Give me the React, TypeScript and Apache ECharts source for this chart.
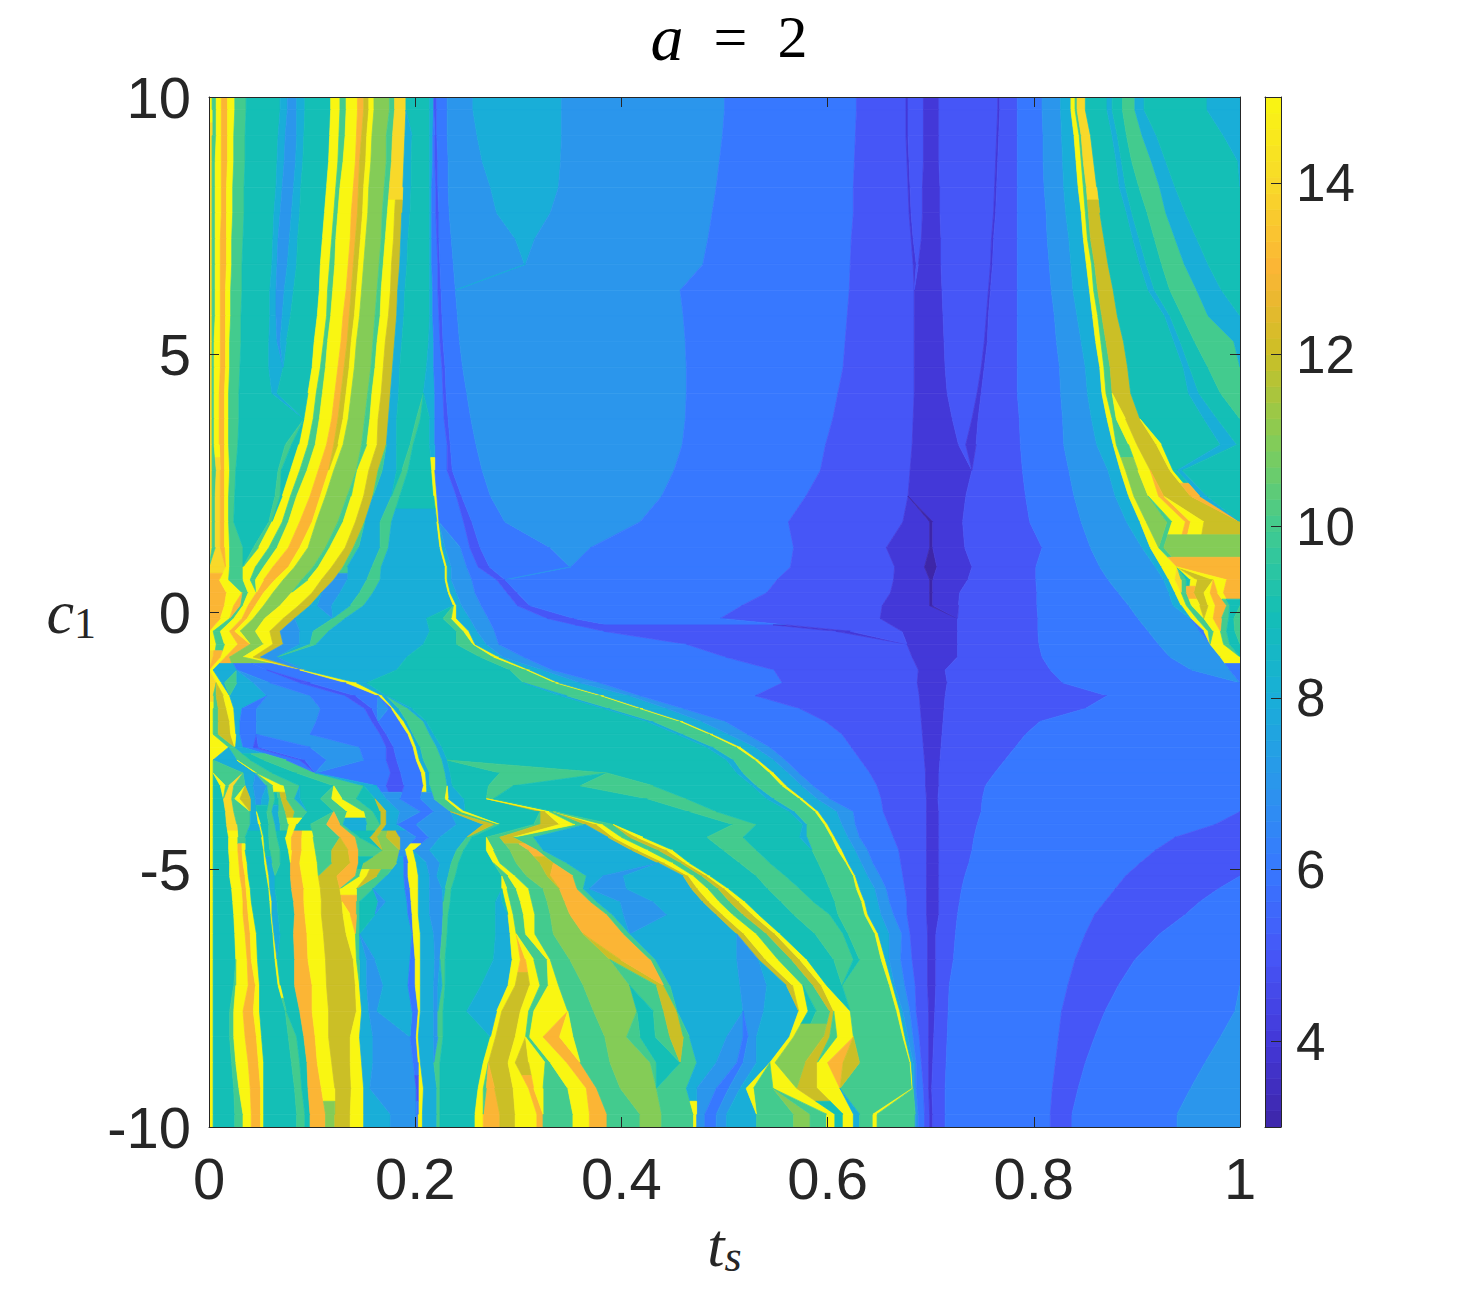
import React, { useEffect, useRef } from "react";
import * as echarts from "echarts";

// c1 edges of the sampled rows, top to bottom
const rowEdges = [10,9.5,9,8.5,8,7.5,7,6.5,6,5.5,5,4.5,4,3.5,3,2.5,2,1.5,1,0.75,0.5,0.25,0,-0.25,-0.5,-0.75,-1,-1.25,-1.5,-1.75,-2,-2.25,-2.5,-2.75,-3,-3.25,-3.5,-3.75,-4,-4.25,-4.5,-4.75,-5,-5.25,-5.5,-5.75,-6,-6.5,-7,-7.5,-8,-8.5,-9,-9.5,-10];

// each row: runs of <hex value><end of the run, in thousandths of t_s>
const rowRuns = [
"f3 a7 f12 d18 f25 a36 969 876 785 893 9118 f127 a133 f144 d150 c155 f160 b175 a180 e191 9214 8218 5221 6231 7256 8342 7500 6628 5676 4678 5693 4708 5765 4767 5784 6808 7826 8836 f840 a842 e850 9871 8876 9886 a898 8907 9968 81000",
"e3 a7 f12 d18 f24 a35 967 874 785 892 9117 f126 a132 f143 d148 c153 f158 b172 a178 e190 8197 9214 8217 6219 5221 6231 7260 8342 7498 6627 5676 4678 5693 4708 5764 4766 5784 6809 7827 8839 f844 a846 e855 9876 8881 9890 a905 8919 9984 81000",
"e3 a6 f12 d18 f24 a35 966 873 784 891 9116 f125 a130 f142 d146 c152 f157 b172 a177 e189 8196 9214 8217 6219 5222 6232 7265 8341 7495 6626 5677 4679 5693 4708 5763 4765 5784 6809 7828 8841 f846 a848 e858 9880 8885 9895 a914 8928 9998 81000",
"e3 a6 f12 d17 f23 a34 965 871 782 889 9114 f123 a127 f140 d145 c150 f155 b170 a175 e188 8196 9214 8216 6220 5222 6232 7273 8339 7492 6625 5678 4680 5692 4709 5762 4764 5784 6810 7829 8843 f848 a851 e861 9883 8889 9902 a922 8937 91000",
"e3 a6 f12 d17 f23 a34 963 869 780 888 9112 f121 a125 f138 d144 c149 f154 b168 a173 f180 c187 8195 9214 8216 6220 5223 6233 7279 8331 7488 6625 5679 4681 5692 4709 5761 4763 5784 6812 7831 8846 f850 a853 c864 9890 8895 9910 a928 8947 91000",
"e3 a6 f11 d17 f22 a33 962 867 778 886 9110 f119 a123 f137 d142 c147 f152 b167 a171 f179 c186 8193 9214 8216 6221 5223 6235 7297 8316 7484 6623 5681 4683 5691 4710 5759 4761 5784 6813 7834 8848 f852 a855 c868 9896 8902 9917 a937 8958 91000",
"e3 a6 f11 d17 f22 a32 961 866 776 885 9108 f117 a122 f135 d140 c145 f150 b165 a169 f177 c185 8192 9214 8216 6222 5224 6237 7306 8307 7479 6622 5683 4686 5688 4710 5758 4760 5784 6815 7836 8851 f856 a859 c872 9903 8909 9924 a946 8969 91000",
"e3 a6 f11 d16 f21 a32 959 865 773 882 9107 f115 a120 f133 d138 c143 f148 b163 a167 f176 c183 8190 9214 8217 6222 5225 6239 7457 6621 5684 4711 5756 4758 5784 6817 7838 8854 f858 a862 c877 9911 8917 9932 a958 8982 91000",
"e3 a6 f11 d16 f21 a31 959 865 771 879 9105 f114 a118 f130 d136 c141 f146 b161 a166 f174 c182 8189 9214 8217 6223 5226 6241 7460 6619 5684 4712 5754 4756 5784 6820 7842 8857 f862 a866 c881 9927 8932 9944 a969 81000",
"e3 a5 f11 d16 f20 a31 958 866 769 875 9102 f111 a115 f128 d134 c138 f143 b159 a163 f171 c180 8187 9213 8218 6224 5227 6243 7462 6617 5684 4713 5752 4755 5784 6822 7846 8860 f865 a870 c887 9936 8942 9956 a994 81000",
"e3 a5 f11 d16 f20 a30 958 872 9100 f108 a113 f125 d131 c136 f141 b157 a161 f169 c178 8185 9211 8218 6226 5229 6246 7463 6615 5684 4714 5749 4752 5784 6825 7850 8864 f868 a874 c891 9945 8951 9969 a1000",
"e3 a5 f10 d15 f19 a29 961 866 996 f104 a110 f122 d128 c133 f138 b154 a158 f167 c176 8184 9208 8219 6227 5230 6250 7463 6610 5684 4716 5745 4749 5784 6826 7852 8866 f870 a876 c894 9950 8960 9981 a1000",
"e3 a5 f10 d15 f19 a29 992 f101 a107 f119 d125 c130 f135 b151 a156 f164 c174 8182 9201 a205 9214 8219 6228 5232 6254 7462 6605 5683 4721 5740 4746 5786 6828 7856 8871 f876 a880 f889 c903 9965 8978 91000",
"e3 a5 f10 d15 f19 a28 974 a80 987 f96 a103 f114 d121 c125 f130 b148 a153 f163 c172 8182 9195 a198 9214 8219 6231 5234 6259 7459 6598 5682 4727 5734 4744 5787 6829 7861 8877 f880 a892 f900 c919 f924 9981 8997 91000",
"e3 a7 e11 d15 f20 a26 967 a70 979 f88 a95 f106 d116 f121 b143 f155 c164 a168 8182 9187 a193 9216 f219 6231 5236 6265 7451 6593 5680 4740 5789 6834 7872 8884 f889 b901 f913 c932 f935 9939 8944 91000",
"e3 a6 e11 d15 f19 a25 964 a69 971 f79 a85 f98 d108 f113 b134 a138 f150 c159 8177 a185 9218 f221 6240 5245 6273 7439 6579 5678 4734 5792 6839 7879 8892 f897 b911 f921 d926 c952 d961 8968 91000",
"e3 a6 e11 d15 f19 a24 958 a61 f71 a77 f88 d100 f104 b125 a130 f142 c151 8166 a177 8221 f223 6247 5255 6287 7418 6562 5673 4699 3702 4731 5796 6846 7890 8903 f909 b929 a934 f947 d952 f965 c1000",
"e3 a6 e11 d15 f20 a33 943 a48 f58 a66 f77 d88 f96 b113 a117 f132 c140 a145 8166 a174 8224 f226 8229 7244 6253 5263 6331 7370 6567 5657 4699 3702 4733 5808 6855 7905 8913 f921 a926 b1000",
"e16 f20 a33 f45 a53 f62 d77 f83 b101 a106 f119 c130 a134 8158 a167 8229 f231 8235 7250 6261 5272 6350 7351 6564 5665 4694 3706 4740 5802 6864 7918 8924 f939 d1000",
"d10 f19 a33 f40 a45 f53 d64 f72 b90 a96 f109 c121 7134 8153 a166 8229 f231 8235 7255 6279 5287 6551 5664 4699 3702 4736 5802 6872 7926 8931 f937 e943 a948 9952 f958 c974 f987 d1000",
"d17 f32 a38 f46 d53 f62 b80 f100 c109 7127 8146 a159 8232 f234 8240 7258 6289 5299 6541 5661 4699 3702 4728 5803 6882 7931 8937 f943 a948 d955 c965 f971 d978 f984 d1000",
"d15 f24 d30 a33 f38 d45 f53 b69 f87 c98 8105 7119 8137 a150 8237 f240 8245 7264 6299 5311 6517 5653 4699 3702 4727 5803 6892 7935 8943 f948 a953 f961 c969 f976 d987 a990 91000",
"d11 f20 a24 f32 d37 f43 b54 f72 c83 8120 a132 8211 9227 a235 f240 8253 7271 6328 5354 6496 5651 4726 5804 6901 7952 f958 a965 f974 d982 a989 9994 a1000",
"f4 a11 f20 d25 f30 b45 f59 c69 788 8101 a116 8214 9240 a247 f252 8260 7277 6383 5608 4622 5672 4726 5804 6911 7961 6965 f969 a974 f981 a987 9995 a1000",
"f7 a15 f28 d40 b53 f62 c72 788 898 a104 8208 9240 a256 f258 8269 7281 6463 5677 4726 5805 6921 7971 f984 a990 91000",
"e4 d11 f16 d20 b33 f43 c50 766 8192 9263 a276 f281 8285 7305 6501 5682 4726 5808 6932 7981 f1000",
"f4 827 656 688 f92 8182 9292 a308 f311 8324 7333 6548 5688 4714 5816 6953 7990 61000",
"e7 f12 815 a27 843 759 688 598 6133 f143 8153 9305 a336 f339 8360 7379 6556 5687 4716 5828 61000",
"e4 a7 c14 f20 856 798 6132 5142 6164 f168 8172 9341 8347 a380 f383 8408 7418 6530 5689 4714 5871 61000",
"f4 a9 c17 f24 832 646 7108 6151 5158 6163 7174 6177 f179 8184 a193 8197 9383 8389 a418 f421 8444 7460 6573 5690 4713 5850 61000",
"f4 a9 c20 f25 830 646 7104 6158 5164 6185 f189 8192 a208 8211 9425 8431 a457 f460 8478 7501 6598 5691 4712 5806 61000",
"f4 a9 c21 f26 830 646 798 6166 5172 6193 f196 8198 a214 8218 9454 8460 a486 f489 8504 7522 6614 5692 4711 5792 61000",
"f19 a25 833 643 548 698 7146 6172 5179 6198 f201 8205 a221 8226 9483 8489 a512 f516 8530 7544 6623 5693 4710 5782 61000",
"f4 827 a40 953 a75 688 593 6114 7150 6172 5182 6201 f204 8208 a226 8231 9502 8509 a530 f533 8548 7559 6632 5694 4709 5772 61000",
"f4 a33 845 f46 a61 985 a103 6176 5186 6206 f210 8214 a229 8234 9282 a386 9512 8518 a544 f548 8562 7572 6641 5695 4708 5762 61000",
"f4 911 f16 a19 e24 a35 843 756 a62 f72 a88 9121 a150 8163 6172 5189 6208 f211 8214 a231 8236 9271 a295 9360 a431 9527 8531 a556 f560 8575 7586 6648 5695 4708 5753 61000",
"f4 914 e22 a25 f30 c40 845 751 858 a64 967 a70 c75 a83 888 9108 a119 f129 a143 9161 8172 7185 6205 7218 a229 f232 8247 9269 a276 9425 a463 9541 8548 a573 f576 8590 7602 6652 5696 4707 5750 61000",
"f4 916 e24 a40 846 956 a61 867 a74 c83 a95 9121 a134 f150 a159 9166 c172 8185 7205 6218 7234 a244 f248 9321 c326 f330 a334 9466 a492 9563 8568 a588 f591 8609 7625 6654 5696 4708 5749 61000",
"f4 917 e27 a40 848 f50 958 a64 869 a77 f85 998 a114 d127 a130 8153 a166 c172 8182 6201 7240 8266 c276 a282 9315 a321 c340 f355 a365 c376 f382 a392 9508 a531 9576 8580 a597 f600 8614 7627 6659 5696 4708 5745 6976 51000",
"f4 919 f28 a35 951 f53 958 a66 974 f80 d90 f101 a127 d142 a146 9156 c163 b172 c185 7201 6213 7224 8250 a255 9269 a282 c295 a315 8387 c392 f400 a408 c415 f421 9483 a518 9573 8580 a604 f607 8620 7631 6664 5696 4708 5742 6937 51000",
"f4 919 f28 d32 f35 953 f54 959 a69 977 f80 d90 f103 a119 c135 d145 a168 b185 7190 f198 7214 8240 a247 9269 f276 a292 b310 d318 a324 8410 c416 f426 a436 c444 f450 9499 a531 9585 a610 f614 8627 7639 6669 5696 4708 5740 6918 51000",
"f4 920 f29 d33 f37 954 f56 861 a69 979 d88 f105 a119 c137 d145 9150 b182 8189 6193 f201 8211 7224 8235 a242 9276 f282 a298 b321 c334 a347 8436 c442 f450 a458 c462 f466 9515 a544 9591 a618 f620 8633 7644 6671 5696 4708 5737 6903 51000",
"f4 920 f30 d35 f38 956 f58 864 979 d90 f106 c124 d142 a146 f153 c163 a172 8189 6193 f203 8214 7221 8232 a239 9284 a290 f297 a308 b328 c331 d353 a366 8382 7402 8460 c465 f470 a478 c483 f486 9531 a559 9597 a625 f627 8639 7651 6673 5696 4708 5733 6889 51000",
"f4 922 f32 d36 f40 958 f59 864 980 d92 f108 c127 f143 a159 8190 6195 f203 8214 7226 8229 a235 9284 f289 a298 f310 a324 b340 d357 a363 8369 7405 8468 c474 f484 a494 c500 f504 9542 a573 9602 a628 f631 8646 7657 6675 5696 4708 5730 6879 5979 61000",
"f4 923 f33 d37 f41 959 f61 866 982 d92 f109 c129 d143 a146 9164 7171 8192 6196 f203 8214 7227 a234 9278 8284 9287 f292 a302 f313 a328 b345 d370 a376 8399 7431 8479 c485 f495 a505 c514 f520 9555 a586 9607 a633 f636 8649 7660 6677 5696 4708 5728 6869 5961 61000",
"f4 924 f33 d38 f43 960 f61 867 983 d93 f109 c130 f137 d143 a146 9161 8193 6197 f203 8214 7227 a232 9278 8290 f295 a305 f316 a331 b350 d386 a391 8402 7444 8492 c498 f508 a518 c527 f533 9567 a602 9610 a636 f639 8652 7664 6677 5696 4708 5726 6859 5947 61000",
"f4 925 f35 d40 f46 962 f63 869 982 d95 f111 c133 f142 a146 8197 6198 f205 8218 7226 a231 9278 8292 f298 a307 f316 a334 b363 d402 a408 8512 c519 f531 a541 c549 f554 9588 a615 9620 a646 f649 8660 7672 6680 5697 4705 5724 6850 5922 61000",
"f4 926 f37 d41 f47 964 f66 983 d96 f113 c140 f143 a146 8153 7161 8195 6200 f205 8219 7224 a229 9276 8294 f302 d307 f315 a328 f331 a350 b389 c399 d428 a433 8512 7533 c540 f552 a565 c573 f580 9606 a625 9631 a652 f656 8660 7671 6682 5697 4705 5722 6840 5898 61000",
"f4 924 a26 f38 d45 f49 967 f69 983 d100 f114 c142 f146 8153 7169 8193 6200 f205 8218 7222 8226 a229 9264 8290 f297 c311 f321 a329 f339 a363 b408 a434 c441 a447 8515 7541 8560 c566 f576 a586 c594 f599 9614 a660 f663 8665 7675 6685 5697 4705 5718 6833 5882 61000",
"f4 920 a24 f33 d43 f49 974 a75 988 d100 f116 c143 f148 8155 7163 8197 6203 f205 8218 7222 a227 9250 8279 f284 c302 f310 a315 f348 a373 b415 9431 a441 c454 8518 7538 8572 f581 9589 a602 c606 f622 a667 f670 8673 7680 6686 5698 4704 5717 6827 5869 6995 71000",
"f4 920 a24 f35 d46 f51 977 a85 992 d103 f116 c137 f146 8159 7195 6201 f203 8218 7222 a227 9273 f278 c297 f307 a311 f324 d340 f353 a384 b405 a418 9433 a447 c460 a466 8502 7518 6523 7531 8563 f567 b596 c602 a609 f625 a673 f675 8678 7683 6689 5698 4703 5716 6824 5859 6981 71000",
"f4 922 a26 f38 d48 f53 980 a88 995 d105 f119 c137 f148 8159 7198 6203 f205 8218 a224 9266 f271 c290 f297 c310 f326 a331 f347 d360 a389 b428 a434 9457 a473 8492 7512 6518 7531 8544 f549 b578 c590 f600 d615 c631 a680 f681 8683 7686 6691 5698 4702 5715 6821 5850 6966 71000",
"f4 924 a29 f40 d50 f53 983 a90 996 d109 f122 c138 f150 8156 7201 5203 f208 8221 a224 9261 f266 a269 d277 c295 f310 d315 f324 a348 f366 d376 a399 b434 a463 8473 7492 6504 7515 8521 f528 a547 f570 c590 f612 a682 f683 7686 6693 5698 4701 5714 6818 5843 6952 71000",
"f4 925 a33 f41 d50 f53 985 a93 998 d113 b122 c137 f150 8176 7201 6203 f207 8221 a224 9258 f266 d282 c297 f318 d324 a353 f369 d386 a418 b439 a470 f473 7481 6492 7502 8531 a567 b583 a599 f607 9615 f625 8631 a644 f648 a685 7688 6694 5699 4702 5714 6816 5837 6939 71000",
];

const colorStops = ["#3E26A8","#4338D8","#4656F7","#3778FF","#2B96EC","#19AED8","#14BFB6","#43CB8E","#84CC57","#CBBF26","#FBB535","#F8D92A","#F9F612"];
const xTickValues = [0,0.2,0.4,0.6,0.8,1];
const yTickValues = [-10,-5,0,5,10];
const barTickValues = [4,6,8,10,12,14];

type Run = { s: number; e: number; v: number };
const parsed: Run[][] = rowRuns.map((row) => {
  const runs: Run[] = [];
  let start = 0;
  row.trim().split(/\s+/).forEach((tok) => {
    const v = parseInt(tok[0], 16);
    const e = parseInt(tok.slice(1), 10) / 1000;
    if (e > start) {
      runs.push({ s: start, e, v });
      start = e;
    }
  });
  return runs;
});

// quads between neighbouring sampled rows: runs of equal value are paired, others taper out
function align(a: Run[], b: Run[]) {
  const n = a.length;
  const m = b.length;
  const S: number[][] = Array.from({ length: n + 1 }, () => new Array(m + 1).fill(0));
  for (let i = n - 1; i >= 0; i--) {
    for (let j = m - 1; j >= 0; j--) {
      let best = Math.max(S[i + 1][j], S[i][j + 1]);
      if (a[i].v === b[j].v) {
        const d = Math.abs((a[i].s + a[i].e) / 2 - (b[j].s + b[j].e) / 2);
        if (d < 0.09) best = Math.max(best, S[i + 1][j + 1] + 1 - d / 0.09 + 0.05);
      }
      S[i][j] = best;
    }
  }
  const pairs: [number, number][] = [];
  let i = 0;
  let j = 0;
  while (i < n && j < m) {
    let took = false;
    if (a[i].v === b[j].v) {
      const d = Math.abs((a[i].s + a[i].e) / 2 - (b[j].s + b[j].e) / 2);
      if (d < 0.09 && Math.abs(S[i][j] - (S[i + 1][j + 1] + 1 - d / 0.09 + 0.05)) < 1e-9) {
        pairs.push([i, j]);
        i++;
        j++;
        took = true;
      }
    }
    if (!took) {
      if (S[i + 1][j] >= S[i][j + 1]) i++;
      else j++;
    }
  }
  return pairs;
}

const cells: number[][] = [];
const centers = parsed.map((_, i) => (rowEdges[i] + rowEdges[i + 1]) / 2);
parsed[0].forEach((r) => cells.push([r.s, r.e, r.e, r.s, rowEdges[0], centers[0], r.v]));
parsed[parsed.length - 1].forEach((r) =>
  cells.push([r.s, r.e, r.e, r.s, centers[parsed.length - 1], rowEdges[rowEdges.length - 1], r.v])
);
for (let k = 0; k + 1 < parsed.length; k++) {
  const A = parsed[k];
  const B = parsed[k + 1];
  const yA = centers[k];
  const yB = centers[k + 1];
  const yM = (yA + yB) / 2;
  const pairs = align(A, B);
  const walk: [number, number][] = [[-1, -1], ...pairs, [A.length, B.length]];
  for (let w = 0; w + 1 < walk.length; w++) {
    const [pa, pb] = walk[w];
    const [qa, qb] = walk[w + 1];
    if (qa < A.length && qb < B.length) {
      cells.push([A[qa].s, A[qa].e, B[qb].e, B[qb].s, yA, yB, A[qa].v]);
    }
    const tL = pa >= 0 ? A[pa].e : 0;
    const tR = qa < A.length ? A[qa].s : 1;
    const bL = pb >= 0 ? B[pb].e : 0;
    const bR = qb < B.length ? B[qb].s : 1;
    const extraA = A.slice(pa + 1, qa);
    const extraB = B.slice(pb + 1, qb);
    const mapTo = (x: number, L: number, R: number, L2: number, R2: number) =>
      R - L > 1e-9 ? L2 + ((x - L) / (R - L)) * (R2 - L2) : L2;
    if (extraA.length && extraB.length) {
      const mL = (tL + bL) / 2;
      const mR = (tR + bR) / 2;
      extraA.forEach((r) =>
        cells.push([r.s, r.e, mapTo(r.e, tL, tR, mL, mR), mapTo(r.s, tL, tR, mL, mR), yA, yM, r.v])
      );
      extraB.forEach((r) =>
        cells.push([mapTo(r.s, bL, bR, mL, mR), mapTo(r.e, bL, bR, mL, mR), r.e, r.s, yM, yB, r.v])
      );
    } else if (extraA.length) {
      extraA.forEach((r) =>
        cells.push([r.s, r.e, mapTo(r.e, tL, tR, bL, bR), mapTo(r.s, tL, tR, bL, bR), yA, yB, r.v])
      );
    } else if (extraB.length) {
      extraB.forEach((r) =>
        cells.push([mapTo(r.s, bL, bR, tL, tR), mapTo(r.e, bL, bR, tL, tR), r.e, r.s, yA, yB, r.v])
      );
    }
  }
}

const barLevels: number[][] = [];
for (let i = 0; i < 64; i++) {
  barLevels.push([0, 1, 1, 0, 3 + (12 * i) / 64, 3 + (12 * (i + 1)) / 64, 3 + (12 * (i + 0.5)) / 64]);
}

const renderQuad = (_: any, api: any) => {
  const color = api.visual("color");
  return {
    type: "polygon",
    shape: {
      points: [
        api.coord([api.value(0), api.value(4)]),
        api.coord([api.value(1), api.value(4)]),
        api.coord([api.value(2), api.value(5)]),
        api.coord([api.value(3), api.value(5)]),
      ],
    },
    style: { fill: color, stroke: color, lineWidth: 0.7 },
  };
};

const INK = "#262626";
const SANS = "Liberation Sans";
const SERIF = "Liberation Serif";

const boxAxis = {
  type: "value" as const,
  z: 10,
  axisLine: { show: true, onZero: false, lineStyle: { color: INK, width: 1 } },
  axisTick: { show: true, inside: true, length: 10, lineStyle: { color: INK, width: 1 } },
  splitLine: { show: false },
};
const plainAxis = {
  type: "value" as const,
  z: 10,
  axisLine: { show: true, onZero: false, lineStyle: { color: INK } },
  axisTick: { show: false },
  axisLabel: { show: false },
  splitLine: { show: false },
};
const labelStyle = { color: INK, fontFamily: SANS, fontSize: 58 };

export default function App() {
  const ref = useRef<HTMLDivElement>(null);
  useEffect(() => {
    const chart = echarts.init(ref.current!, undefined, { renderer: "svg" });
    chart.setOption({
      animation: false,
      backgroundColor: "#fff",
      title: {
        text: "{i|a}\u2002=\u20022",
        left: 724,
        top: -1,
        textAlign: "center",
        textStyle: {
          color: "#000",
          fontFamily: SERIF,
          fontSize: 60,
          fontWeight: "normal",
          rich: { i: { fontFamily: SERIF, fontStyle: "italic", fontSize: 66, color: "#000" } },
        },
      },
      grid: [
        { left: 209, top: 97, width: 1031, height: 1030, outerBoundsMode: "none" },
        { left: 1265, top: 97, width: 16, height: 1030, outerBoundsMode: "none" },
      ],
      xAxis: [
        {
          ...boxAxis,
          gridIndex: 0,
          min: 0,
          max: 1,
          interval: 0.2,
          position: "bottom",
          axisLabel: { ...labelStyle, margin: 22, customValues: xTickValues },
          axisTick: { ...boxAxis.axisTick, customValues: xTickValues },
          name: "{i|t}{s|s}",
          nameLocation: "middle",
          nameGap: 85,
          nameTextStyle: {
            rich: {
              i: { fontFamily: SERIF, fontStyle: "italic", fontSize: 62, color: INK },
              s: { fontFamily: SERIF, fontStyle: "italic", fontSize: 44, color: INK, padding: [22, 0, 0, 0] },
            },
          },
        },
        { ...boxAxis, gridIndex: 0, min: 0, max: 1, interval: 0.2, position: "top", axisLabel: { show: false } },
        { ...plainAxis, gridIndex: 1, min: 0, max: 1, position: "bottom" },
        { ...plainAxis, gridIndex: 1, min: 0, max: 1, position: "top" },
      ],
      yAxis: [
        {
          ...boxAxis,
          gridIndex: 0,
          min: -10,
          max: 10,
          interval: 5,
          position: "left",
          axisLabel: { ...labelStyle, margin: 18, padding: [4, 0, 0, 0], customValues: yTickValues },
          axisTick: { ...boxAxis.axisTick, customValues: yTickValues },
          name: "{i|c}{s|1}",
          nameLocation: "middle",
          nameRotate: 0,
          nameGap: 113,
          nameTextStyle: {
            rich: {
              i: { fontFamily: SERIF, fontStyle: "italic", fontSize: 62, color: INK },
              s: { fontFamily: SERIF, fontSize: 44, color: INK, padding: [22, 0, 0, 0] },
            },
          },
        },
        { ...boxAxis, gridIndex: 0, min: -10, max: 10, interval: 5, position: "right", axisLabel: { show: false } },
        {
          ...boxAxis,
          gridIndex: 1,
          min: 3,
          max: 15,
          position: "right",
          axisTick: { ...boxAxis.axisTick, customValues: barTickValues },
          axisLabel: { ...labelStyle, fontSize: 53, margin: 15, padding: [4, 0, 0, 0], customValues: barTickValues },
        },
        { ...plainAxis, gridIndex: 1, min: 3, max: 15, position: "left" },
      ],
      visualMap: {
        show: false,
        type: "continuous",
        min: 3,
        max: 15,
        dimension: 6,
        seriesIndex: [0, 1],
        inRange: { color: colorStops },
      },
      series: [
        {
          type: "custom",
          xAxisIndex: 0,
          yAxisIndex: 0,
          silent: true,
          z: 2,
          clip: true,
          encode: { x: [0, 1, 2, 3], y: [4, 5] },
          renderItem: renderQuad,
          data: cells,
        },
        {
          type: "custom",
          xAxisIndex: 2,
          yAxisIndex: 2,
          silent: true,
          z: 2,
          clip: true,
          encode: { x: [0, 1, 2, 3], y: [4, 5] },
          renderItem: renderQuad,
          data: barLevels,
        },
      ],
    });
    return () => chart.dispose();
  }, []);
  return (
    <div
      ref={ref}
      style={{ position: "fixed", left: 0, top: 0, width: 1461, height: 1293 }}
    />
  );
}
